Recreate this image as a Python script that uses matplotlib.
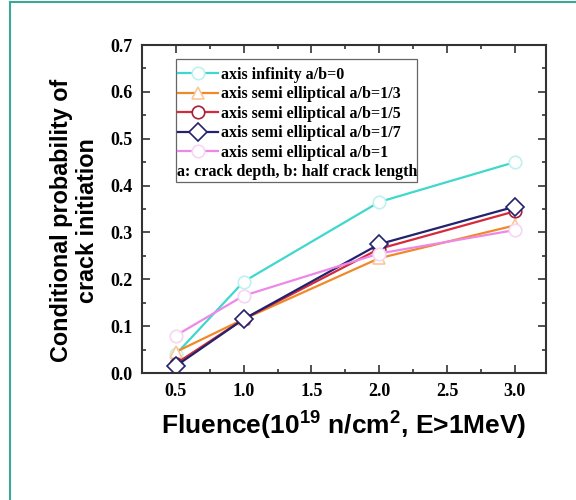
import matplotlib
matplotlib.use("Agg")
import matplotlib.pyplot as plt
from matplotlib.lines import Line2D
from matplotlib.patches import Rectangle

plt.rcParams['mathtext.fontset'] = 'custom'
plt.rcParams['mathtext.rm'] = 'Liberation Sans:bold'
plt.rcParams['mathtext.default'] = 'rm'

fluence = [0.5, 1.0, 2.0, 3.0]
ab_0 = [0.040, 0.195, 0.365, 0.450]
ab_1_3 = [0.045, 0.115, 0.245, 0.315]
ab_1_5 = [0.020, 0.115, 0.265, 0.345]
ab_1_7 = [0.015, 0.115, 0.275, 0.355]
ab_1 = [0.080, 0.165, 0.255, 0.305]
labels = ["axis infinity a/b=0", "axis semi elliptical a/b=1/3",
          "axis semi elliptical a/b=1/5", "axis semi elliptical a/b=1/7",
          "axis semi elliptical a/b=1"]
note = "a: crack depth, b: half crack length"
xticks = [0.5, 1.0, 1.5, 2.0, 2.5, 3.0]
yticks = [0.0, 0.1, 0.2, 0.3, 0.4, 0.5, 0.6, 0.7]

fig = plt.figure(figsize=(5.76, 5.0), dpi=100)
ax = fig.add_axes([142/576, 1-373/500, 404/576, 328/500])

series = [ab_0, ab_1_3, ab_1_5, ab_1_7, ab_1]
colors = ['#3fd8cc', '#f08a28', '#d42a3c', '#22226e', '#ee88e8']
markers = ['o', '^', 'o', 'D', 'o']
mecs = ['#bff2ee', '#f8c898', '#a8203a', '#22226e', '#f6d6f4']
handles = []
for ys, c, m, mec, lab in zip(series, colors, markers, mecs, labels):
    h, = ax.plot(fluence, ys, color=c, lw=1.6, marker=m, ms=9,
                 mfc='white', mec=mec, mew=1.2, label=lab)
    handles.append(h)

ax.set_xlim(0.25, 3.23)
ax.set_ylim(0.0, 0.7)
ax.set_xticks(xticks)
ax.set_xticks([0.25 + 0.25*i for i in range(12)], minor=True)
ax.set_yticks(yticks)
ax.set_yticks([0.05 + 0.1*i for i in range(7)], minor=True)
ax.tick_params(which='both', direction='in', top=True, right=True,
               color='#333333', width=1.2)
ax.tick_params(which='major', length=6, pad=7)
ax.tick_params(which='minor', length=3)
for s in ax.spines.values():
    s.set_linewidth(1.5)
    s.set_color('#333333')

tick_font = dict(family='Liberation Serif', weight='bold', size=13)
ax.set_xticklabels(['%.1f' % v for v in xticks], fontdict=tick_font)
ax.set_yticklabels(['%.1f' % v for v in yticks], fontdict=tick_font)

ax.set_xlabel('Fluence(10$^{19}$ n/cm$^{2}$, E>1MeV)', family='Liberation Sans',
              weight='bold', size=19, labelpad=7)
ax.set_ylabel('Conditional probability of\ncrack initiation', family='Liberation Sans',
              weight='bold', size=16.8, linespacing=1.2)
ax.yaxis.set_label_coords(-0.106, 0.466)

leg = ax.legend(handles=handles, loc='upper left', bbox_to_anchor=(0.089, 0.934),
                frameon=False, prop=dict(family='Liberation Serif', weight='bold', size=11.5),
                handlelength=2.5, handletextpad=0.2, labelspacing=0.22, borderpad=0.0,
                borderaxespad=0.0)
ax.text(0.087, 0.614, note, transform=ax.transAxes, family='Liberation Serif',
        weight='bold', size=11.5, va='center', ha='left')
ax.add_patch(Rectangle((0.084, 0.583), 0.597, 0.374, transform=ax.transAxes,
                       fill=False, ec='#666666', lw=0.9))

fig.add_artist(Line2D([10/576, 1], [1-2/500, 1-2/500], color='#3aa896', lw=1.5))
fig.add_artist(Line2D([10/576, 10/576], [0, 1-2/500], color='#3aa896', lw=1.5))

fig.savefig('out.png', dpi=100)
